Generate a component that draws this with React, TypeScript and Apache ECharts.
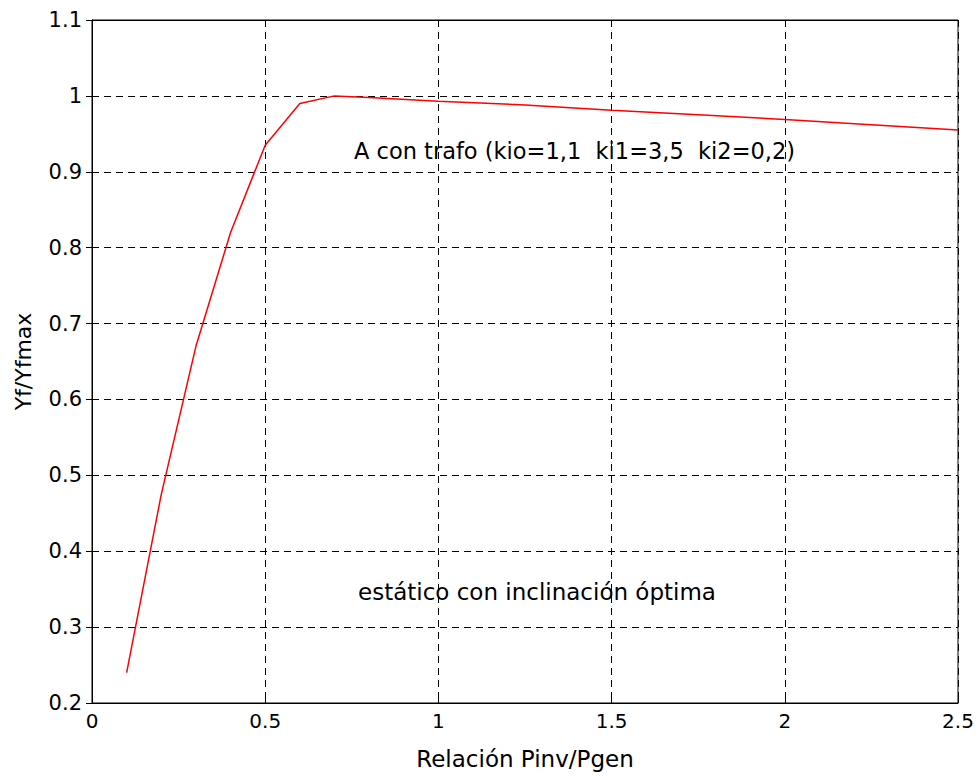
import React, { useEffect, useRef } from "react";
import * as echarts from "echarts";

const xValues = [0.1, 0.2, 0.3, 0.4, 0.5, 0.6, 0.7, 0.8, 1.0, 1.25, 1.5, 1.75, 2.0, 2.25, 2.5];
const yValues = [0.24, 0.475, 0.67, 0.82, 0.935, 0.99, 1.0, 0.998, 0.993, 0.988, 0.981, 0.975, 0.969, 0.962, 0.955];
const xTitle = "Relación Pinv/Pgen";
const yTitle = "Yf/Yfmax";
const note1 = "A con trafo (kio=1,1  ki1=3,5  ki2=0,2)";
const note2 = "estático con inclinación óptima";

const FONT = "'DejaVu Sans', sans-serif";

export default function App() {
  const ref = useRef<HTMLDivElement>(null);
  useEffect(() => {
    if (!ref.current) return;
    const chart = echarts.init(ref.current, undefined, { renderer: "svg" });
    const dashed = { show: true, lineStyle: { color: "#000", type: [7, 5] as any, width: 1 } };
    chart.setOption({
      animation: false,
      backgroundColor: "#fff",
      grid: {
        left: 92, right: 21, top: 20, bottom: 73,
        containLabel: false, outerBoundsMode: "none",
        show: true, borderColor: "#000", borderWidth: 1, backgroundColor: "transparent",
      },
      xAxis: [
        {
          type: "value", min: 0, max: 2.5, interval: 0.5,
          axisLine: { show: true, onZero: false, lineStyle: { color: "#000" } },
          axisTick: { show: true, inside: true, length: 6, lineStyle: { color: "#000" } },
          axisLabel: { color: "#000", fontSize: 20, fontFamily: FONT, margin: 8, formatter: (v: number) => String(v) },
          splitLine: dashed,
          name: xTitle, nameLocation: "middle", nameGap: 44,
          nameTextStyle: { color: "#000", fontSize: 23, fontFamily: FONT },
        },
        {
          type: "value", min: 0, max: 2.5, interval: 0.5, position: "top",
          axisLine: { show: true, lineStyle: { color: "#000" } },
          axisTick: { show: true, inside: true, length: 6, lineStyle: { color: "#000" } },
          axisLabel: { show: false }, splitLine: { show: false },
        },
      ],
      yAxis: [
        {
          type: "value", min: 0.2, max: 1.1, interval: 0.1,
          axisLine: { show: true, onZero: false, lineStyle: { color: "#000" } },
          axisTick: { show: true, inside: true, length: 6, lineStyle: { color: "#000" } },
          axisLabel: { color: "#000", fontSize: 21, fontFamily: FONT, margin: 10, formatter: (v: number) => String(Math.round(v * 10) / 10) },
          splitLine: dashed,
          name: yTitle, nameLocation: "middle", nameGap: 58, nameRotate: 90,
          nameTextStyle: { color: "#000", fontSize: 22, fontFamily: FONT },
        },
        {
          type: "value", min: 0.2, max: 1.1, interval: 0.1, position: "right",
          axisLine: { show: true, lineStyle: { color: "#000" } },
          axisTick: { show: true, inside: true, length: 6, lineStyle: { color: "#000" } },
          axisLabel: { show: false }, splitLine: { show: false },
        },
      ],
      graphic: [
        { type: "text", left: 354, top: 139, style: { text: note1, fill: "#000", fontSize: 22.5, fontFamily: FONT } },
        { type: "text", left: 358, top: 580, style: { text: note2, fill: "#000", fontSize: 23, fontFamily: FONT } },
      ],
      series: [
        {
          type: "line",
          data: xValues.map((x, i) => [x, yValues[i]]),
          showSymbol: false,
          lineStyle: { color: "#ff0000", width: 1.5 },
          xAxisIndex: 0, yAxisIndex: 0,
        },
      ],
    });
    return () => chart.dispose();
  }, []);
  return <div ref={ref} style={{ width: 979, height: 776, position: "absolute", left: 0, top: 0 }} />;
}
